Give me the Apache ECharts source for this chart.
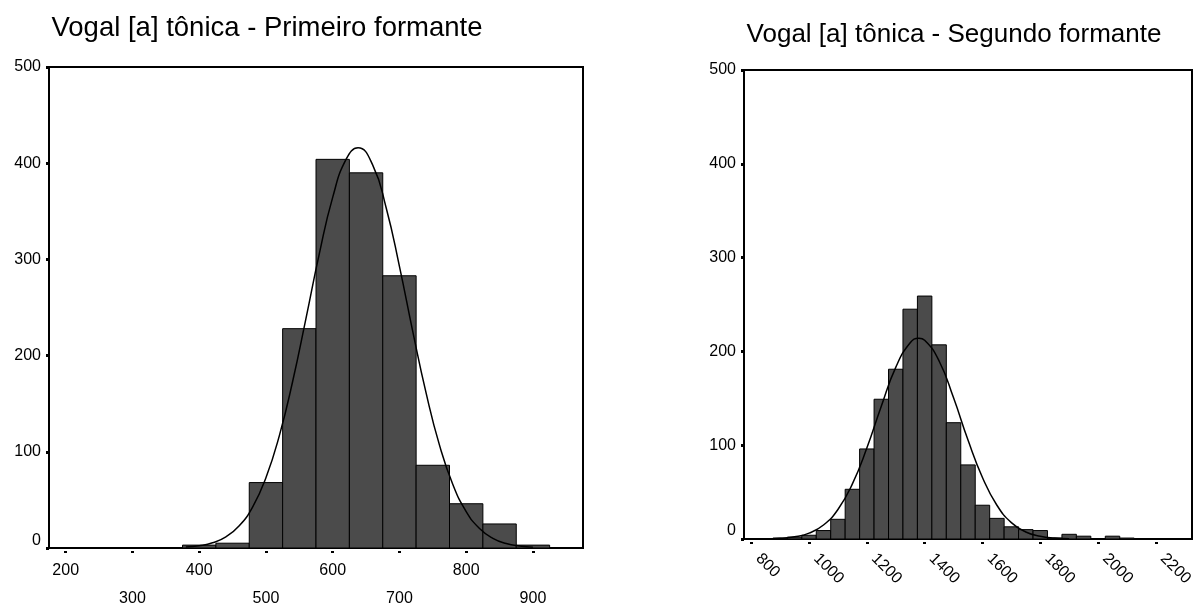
<!DOCTYPE html>
<html><head><meta charset="utf-8">
<script src="https://cdn.jsdelivr.net/npm/echarts@6/dist/echarts.min.js"></script>
<style>html,body{margin:0;padding:0;background:#fff}#c{width:1197px;height:606px}</style>
</head><body><div id="c"></div>
<script>
const titles = ['Vogal [a] tônica - Primeiro formante', 'Vogal [a] tônica - Segundo formante'];
const binWidth = 50;

// Primeiro formante (F1)
const f1Mid   = [400, 450, 500, 550, 600, 650, 700, 750, 800, 850, 900];
const f1Count = [3, 5, 68, 228, 404, 390, 283, 86, 46, 25, 3];
const f1CurveX = [380,400,420,440,460,480,500,520,540,560,580,600,620,638,660,680,700,720,740,760,780,800,820,840,860,880,900];
const f1CurveY = [1.0,2.4,5.4,11.6,23.1,42.6,73.1,116.6,173.1,238.7,306,364.5,403.9,416,398,354,292.8,225,161,106.9,66,37.9,20.2,10.0,4.6,2.0,0.8];
const f1Ticks = [200, 300, 400, 500, 600, 700, 800, 900];

// Segundo formante (F2)
const f2Mid   = [900,950,1000,1050,1100,1150,1200,1250,1300,1350,1400,1450,1500,1550,1600,1650,1700,1750,1800,1850,1900,1950,2050,2100];
const f2Count = [1,2,4,9,21,53,96,149,181,245,259,207,124,79,36,22,13,10,9,1,5,3,3,1];
const f2CurveX = [850,900,950,1000,1050,1100,1150,1200,1250,1300,1350,1380,1400,1450,1500,1550,1600,1650,1700,1750,1800,1850,1900];
const f2CurveY = [0.2,0.8,2.3,6.3,14.9,31.5,58.7,96.9,141.6,183,209.3,214,211.9,189.8,150.5,105.5,65.6,36.0,17.5,7.5,2.9,1.0,0.3];
const f2Ticks = [800, 1000, 1200, 1400, 1600, 1800, 2000, 2200];

const FONT = "'Liberation Sans', Arial, sans-serif";
const chart = echarts.init(document.getElementById('c'), null, {renderer: 'canvas'});

function bins(mid, count) {
  return mid.map((m, i) => [m - binWidth / 2, m + binWidth / 2, count[i]]);
}
function curve(xs, ys) { return xs.map((x, i) => [x, ys[i]]); }

function renderBar(params, api) {
  const p1 = api.coord([api.value(0), api.value(2)]);
  const p2 = api.coord([api.value(1), 0]);
  return {
    type: 'rect',
    shape: {x: p1[0], y: p1[1], width: p2[0] - p1[0], height: p2[1] - p1[1]},
    style: {fill: '#4b4b4b', stroke: '#000', lineWidth: 1}
  };
}

function yAxis(gridIndex, zeroLift) {
  return {
    type: 'value', gridIndex: gridIndex, min: 0, max: 500, interval: 100,
    axisLine: {show: true, lineStyle: {color: '#000', width: 2}},
    axisTick: {show: true, length: 3, lineStyle: {color: '#000', width: 3}},
    axisLabel: {color: '#000', fontSize: 16, fontFamily: FONT, margin: 8,
      formatter: v => (v === 0 ? '{z|0}' : String(v)),
      rich: {z: {color: '#000', fontSize: 16, fontFamily: FONT, padding: [0, 0, zeroLift, 0]}}},
    splitLine: {show: false}
  };
}

const option = {
  animation: false,
  backgroundColor: '#fff',
  graphic: [
    {type: 'text', x: 267, y: 28, style: {text: titles[0], align: 'center', verticalAlign: 'middle', fontSize: 27.5, fontFamily: FONT, fill: '#000'}},
    {type: 'text', x: 954, y: 35, style: {text: titles[1], align: 'center', verticalAlign: 'middle', fontSize: 26, fontFamily: FONT, fill: '#000'}}
  ],
  grid: [
    {left: 49, right: 614, top: 67, bottom: 58, show: true, borderColor: '#000', borderWidth: 2, backgroundColor: 'transparent',
      containLabel: false, outerBoundsMode: 'none'},
    {left: 744, right: 5, top: 70, bottom: 67, show: true, borderColor: '#000', borderWidth: 2, backgroundColor: 'transparent',
      containLabel: false, outerBoundsMode: 'none'}
  ],
  xAxis: [
    {
      type: 'value', gridIndex: 0, min: 175, max: 975,
      axisLine: {show: true, lineStyle: {color: '#000', width: 2}},
      axisTick: {show: true, customValues: f1Ticks, length: 5, lineStyle: {color: '#000', width: 3, type: [2, 3], dashOffset: 2}},
      axisLabel: {customValues: f1Ticks, color: '#000', fontSize: 16, fontFamily: FONT, margin: 9, lineHeight: 28,
        formatter: v => ((v / 100) % 2 === 0 ? String(v) : '\n' + v)},
      splitLine: {show: false}
    },
    {
      type: 'value', gridIndex: 1, min: 775, max: 2325,
      axisLine: {show: true, lineStyle: {color: '#000', width: 2}},
      axisTick: {show: true, customValues: f2Ticks, length: 5, lineStyle: {color: '#000', width: 3, type: [2, 3], dashOffset: 2}},
      axisLabel: {customValues: f2Ticks, color: '#000', fontSize: 16, fontFamily: FONT, margin: 10, rotate: -45,
        padding: [0, 0, 0, 10], formatter: v => String(v)},
      splitLine: {show: false}
    }
  ],
  yAxis: [yAxis(0, 14), yAxis(1, 16)],
  series: [
    {type: 'custom', xAxisIndex: 0, yAxisIndex: 0, renderItem: renderBar, data: bins(f1Mid, f1Count), encode: {x: [0, 1], y: 2}, z: 2},
    {type: 'line', xAxisIndex: 0, yAxisIndex: 0, data: curve(f1CurveX, f1CurveY), smooth: true, showSymbol: false, symbol: 'none',
      lineStyle: {color: '#000', width: 1.5}, z: 3},
    {type: 'custom', xAxisIndex: 1, yAxisIndex: 1, renderItem: renderBar, data: bins(f2Mid, f2Count), encode: {x: [0, 1], y: 2}, z: 2},
    {type: 'line', xAxisIndex: 1, yAxisIndex: 1, data: curve(f2CurveX, f2CurveY), smooth: true, showSymbol: false, symbol: 'none',
      lineStyle: {color: '#000', width: 1.5}, z: 3}
  ]
};
chart.setOption(option);
</script>
</body></html>
